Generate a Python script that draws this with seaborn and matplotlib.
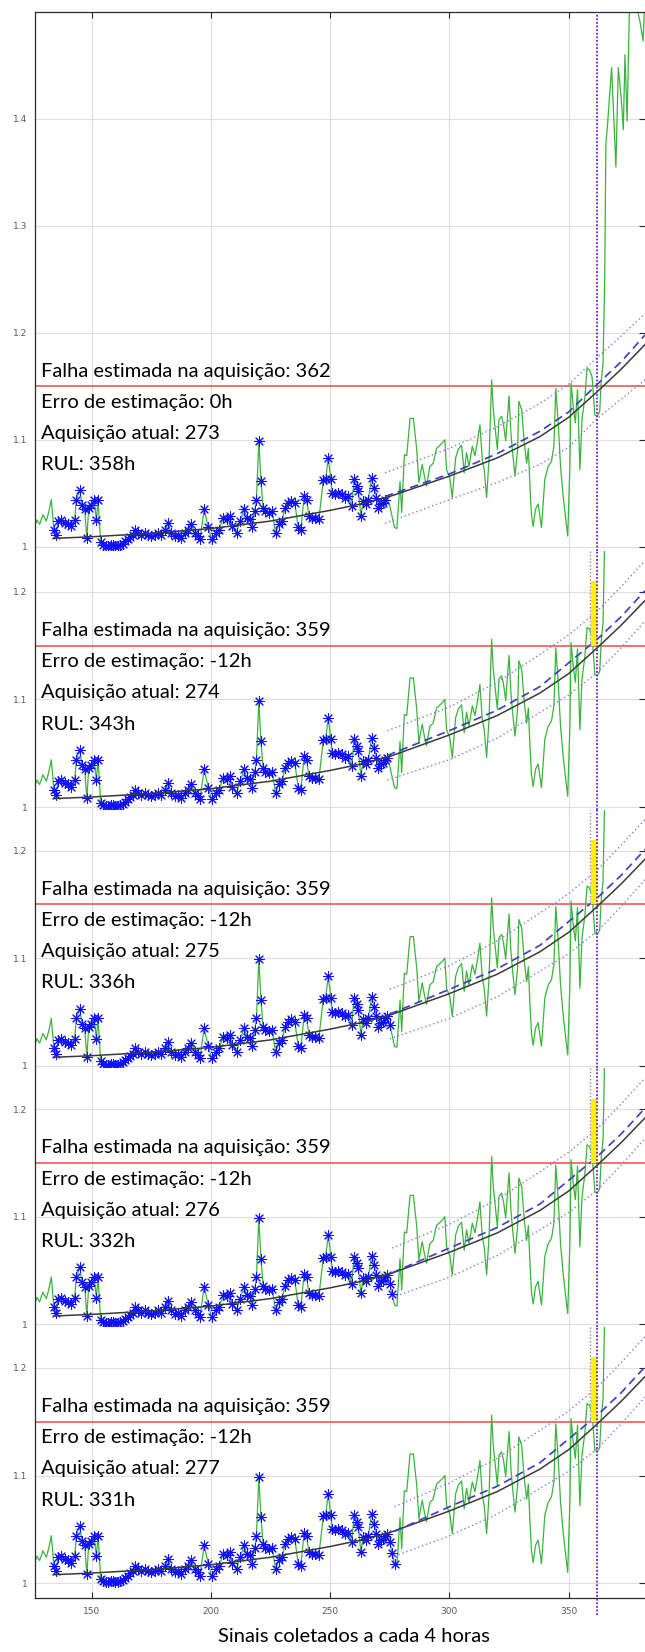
import matplotlib
matplotlib.use("Agg")
import matplotlib.pyplot as plt
import seaborn as sns
from matplotlib.transforms import blended_transform_factory

# ---------------------------------------------------------------- data
# acquisition index (one signal every 4 hours) and monitored signal level
acq = [126.1, 127.1, 128.2, 129.6, 131.0, 132.0, 133.1, 134.2, 135.2, 135.9,
       137.3, 138.7, 140.1, 141.5, 142.9, 143.6, 145.0, 146.0, 147.1, 148.0,
       148.8, 149.9, 151.0, 152.0, 152.7, 153.8, 154.8, 156.0, 156.9, 158.0,
       159.0, 160.0, 161.1, 162.1, 163.1, 164.2, 165.2, 166.3, 167.3, 168.3,
       169.4, 170.8, 172.2, 173.6, 175.0, 176.4, 177.8, 179.2, 180.9, 182.0,
       183.4, 184.8, 186.2, 187.6, 189.0, 190.4, 191.8, 193.2, 194.6, 195.4,
       197.2, 198.9, 200.3, 202.0, 203.4, 205.2, 206.6, 208.0, 208.9, 210.8,
       212.2, 214.0, 215.0, 216.4, 217.3, 218.4, 219.1, 220.1, 221.0, 221.9,
       222.9, 224.3, 225.7, 227.1, 228.5, 229.9, 231.0, 232.4, 233.8, 235.2,
       236.6, 237.7, 239.1, 240.1, 241.1, 242.2, 243.6, 245.3, 247.1, 248.1,
       249.2, 250.3, 250.9, 252.0, 253.4, 254.8, 256.2, 257.6, 259.0, 260.1,
       261.1, 261.8, 262.9, 263.9, 265.2, 266.0, 267.4, 268.5, 269.4, 270.2,
       271.3, 272.3, 273.0, 274.0, 275.0, 276.0, 277.0, 278.0, 279.3, 280.0,
       281.1, 282.1, 283.5, 284.9, 286.3, 287.2, 288.6, 289.5, 290.4, 291.8,
       293.2, 294.6, 295.6, 297.0, 298.1, 298.8, 300.2, 301.2, 302.6, 303.7,
       305.1, 306.2, 307.2, 308.2, 309.6, 310.7, 311.8, 312.8, 313.8, 314.6,
       315.6, 316.6, 317.7, 318.4, 319.1, 320.1, 320.8, 321.9, 322.7, 323.6,
       325.0, 325.8, 326.5, 327.5, 328.6, 329.1, 330.3, 331.4, 332.4, 333.1,
       333.8, 334.4, 335.1, 336.1, 337.2, 338.6, 340.0, 341.4, 342.8, 343.8,
       344.6, 345.6, 346.6, 347.7, 348.8, 349.6, 350.5, 351.0, 351.9, 352.8,
       353.7, 354.7, 355.6, 356.8, 357.7, 358.8, 359.8, 361.0, 362.0, 363.0,
       363.7, 364.4, 365.1, 365.6, 366.2, 367.1, 368.0, 369.8, 370.8, 372.0,
       372.9, 373.6, 374.5, 375.4, 376.3, 377.2, 378.2, 379.1, 379.9, 381.2,
       382.3, 383.5]
signal = [1.019, 1.025, 1.021, 1.030, 1.024, 1.032, 1.044, 1.016, 1.011, 1.024,
          1.025, 1.022, 1.021, 1.019, 1.025, 1.044, 1.053, 1.039, 1.035, 1.008,
          1.036, 1.039, 1.044, 1.025, 1.044, 1.004, 1.002, 1.001, 1.001, 1.002,
          1.002, 1.001, 1.001, 1.002, 1.003, 1.005, 1.007, 1.009, 1.011, 1.016,
          1.013, 1.011, 1.013, 1.011, 1.010, 1.011, 1.013, 1.011, 1.016, 1.022,
          1.013, 1.010, 1.011, 1.008, 1.013, 1.016, 1.021, 1.013, 1.010, 1.007,
          1.035, 1.018, 1.007, 1.013, 1.016, 1.027, 1.026, 1.029, 1.019, 1.013,
          1.024, 1.035, 1.027, 1.026, 1.018, 1.033, 1.044, 1.099, 1.061, 1.036,
          1.033, 1.032, 1.033, 1.013, 1.021, 1.024, 1.036, 1.041, 1.043, 1.041,
          1.018, 1.016, 1.047, 1.044, 1.029, 1.027, 1.027, 1.026, 1.062, 1.063,
          1.083, 1.063, 1.050, 1.049, 1.050, 1.049, 1.046, 1.047, 1.038, 1.063,
          1.057, 1.052, 1.029, 1.043, 1.040, 1.044, 1.064, 1.055, 1.046, 1.036,
          1.040, 1.041, 1.044, 1.046, 1.038, 1.028, 1.018, 1.017, 1.061, 1.032,
          1.086, 1.085, 1.120, 1.120, 1.091, 1.060, 1.077, 1.066, 1.057, 1.075,
          1.078, 1.092, 1.094, 1.097, 1.100, 1.072, 1.064, 1.046, 1.083, 1.091,
          1.095, 1.069, 1.088, 1.075, 1.094, 1.085, 1.099, 1.114, 1.081, 1.072,
          1.046, 1.081, 1.156, 1.128, 1.113, 1.091, 1.119, 1.122, 1.114, 1.099,
          1.141, 1.106, 1.088, 1.066, 1.091, 1.136, 1.128, 1.097, 1.078, 1.092,
          1.055, 1.030, 1.019, 1.035, 1.040, 1.018, 1.063, 1.075, 1.080, 1.094,
          1.148, 1.116, 1.075, 1.047, 1.025, 1.010, 1.075, 1.153, 1.131, 1.116,
          1.147, 1.072, 1.119, 1.140, 1.167, 1.165, 1.159, 1.123, 1.122, 1.126,
          1.156, 1.171, 1.250, 1.377, 1.392, 1.420, 1.448, 1.355, 1.448, 1.420,
          1.390, 1.460, 1.398, 1.497, 1.530, 1.550, 1.520, 1.499, 1.491, 1.473,
          1.530, 1.560]

# first acquisition used by the degradation model
fit_start = 134.0

# per-panel results
current_acq = [273, 274, 275, 276, 277]
estimated_failure = [362, 359, 359, 359, 359]
estimation_error_h = [0, -12, -12, -12, -12]
rul_h = [358, 343, 336, 332, 331]
true_failure = 362
threshold = 1.15

# fitted degradation trend
trend_x = [134, 150, 175, 200, 225, 250, 263, 275, 300, 320, 338, 350, 362, 372, 382]
trend_first = [1.0078, 1.0093, 1.0125, 1.017, 1.024, 1.034, 1.040, 1.047,
               1.066, 1.083, 1.103, 1.121, 1.145, 1.166, 1.189]
trend_next = [1.0078, 1.0093, 1.0125, 1.017, 1.024, 1.034, 1.040, 1.047,
              1.067, 1.085, 1.106, 1.124, 1.148, 1.169, 1.192]

# forecast (dashed) and its confidence bounds (dotted)
pred_x = [274, 300, 320, 338, 350, 362, 372, 382]
pred_first = [1.047, 1.068, 1.087, 1.108, 1.126, 1.152, 1.173, 1.198]
upper_first = [1.069, 1.092, 1.112, 1.134, 1.152, 1.177, 1.197, 1.218]
lower_first = [1.022, 1.044, 1.060, 1.077, 1.093, 1.120, 1.138, 1.156]
pred_next = [1.048, 1.071, 1.090, 1.112, 1.134, 1.156, 1.177, 1.201]
upper_next = [1.071, 1.093, 1.116, 1.142, 1.160, 1.182, 1.205, 1.229]
lower_next = [1.025, 1.044, 1.064, 1.088, 1.104, 1.125, 1.148, 1.173]

# top of the yellow estimation-error marker
err_bar_top = 1.21

x_ticks = [150, 200, 250, 300, 350]

# ---------------------------------------------------------------- style
sns.set_style("white")
plt.rcParams["font.family"] = ["DejaVu Sans"]
TEXT_FONT = ["Lato", "DejaVu Sans"]
TEXT_SIZE = 14.5

GREEN = "#3ab43a"
STAR = "#1010ff"
TREND = "#3a3a3a"
PRED = "#3b3bc8"
BOUND = "#7d7de0"
RED = "#f05a5a"
PURPLE = "#6a20d0"
YELLOW = "#fff200"
GRID = "#dedede"
SPINE = "#2a2a2a"
TICKLAB = "#5a5a5a"

W, H = 645, 1652
fig = plt.figure(figsize=(W / 100, H / 100), dpi=100)

left_px, right_px = 34.6, 645.0
# panel vertical extents in pixels (top, bottom) and y-limits
panel_px = [(12.0, 551.0), (551.0, 809.7), (809.7, 1068.4), (1068.4, 1327.1), (1327.1, 1597.7)]
panel_ylim = [(0.996, 1.5), (0.9975, 1.238), (0.9975, 1.238), (0.9975, 1.238), (0.9864, 1.238)]
panel_yticks = [[1.0, 1.1, 1.2, 1.3, 1.4], [1.0, 1.1, 1.2], [1.0, 1.1, 1.2], [1.0, 1.1, 1.2], [1.0, 1.1, 1.2]]
x_lim = (126.1, 382.0)
text_rows = [1.159, 1.130, 1.101, 1.072]

axes = []
for i in range(5):
    top, bot = panel_px[i]
    ax = fig.add_axes([left_px / W, 1 - bot / H, (right_px - left_px) / W, (bot - top) / H])
    axes.append(ax)
    first = i == 0
    last = i == 4

    ax.set_xlim(*x_lim)
    ax.set_ylim(*panel_ylim[i])
    ax.set_xticks(x_ticks)
    ax.set_yticks(panel_yticks[i])
    ax.set_yticklabels([("%g" % v) for v in panel_yticks[i]])
    ax.grid(True, color=GRID, lw=0.8)
    ax.set_axisbelow(True)

    for side in ["top", "bottom", "left", "right"]:
        ax.spines[side].set_color(SPINE)
        ax.spines[side].set_linewidth(0.9)
    ax.spines["right"].set_visible(False)
    ax.spines["top"].set_visible(first)
    ax.spines["bottom"].set_visible(last)

    ax.tick_params(axis="y", direction="in", length=4, width=0.8, color=SPINE,
                   labelsize=6.5, labelcolor=TICKLAB, pad=5, right=True)
    ax.tick_params(axis="x", direction="in", length=4, width=0.8, color=SPINE,
                   labelsize=6.5, labelcolor=TICKLAB, pad=7,
                   top=first, bottom=last, labelbottom=last, labeltop=False)

    # red failure threshold
    ax.axhline(threshold, color=RED, lw=1.2, zorder=1.5)

    # signal
    sns.lineplot(x=acq, y=signal, ax=ax, color=GREEN, lw=0.9, sort=False,
                 estimator=None, legend=False, zorder=2)

    # acquisitions used by the model so far
    sx = [a for a in acq if fit_start <= a <= current_acq[i] + 0.5]
    sy = [s for a, s in zip(acq, signal) if fit_start <= a <= current_acq[i] + 0.5]
    sns.scatterplot(x=sx, y=sy, ax=ax, marker=(8, 2, 0), s=50, color=STAR,
                    edgecolor=STAR, linewidth=0.75, legend=False, zorder=3)

    trend = trend_first if first else trend_next
    pred = pred_first if first else pred_next
    upper = upper_first if first else upper_next
    lower = lower_first if first else lower_next
    px = [current_acq[i]] + pred_x[1:]

    sns.lineplot(x=trend_x, y=trend, ax=ax, color=TREND, lw=1.1, sort=False,
                 estimator=None, legend=False, zorder=4)
    sns.lineplot(x=px, y=pred, ax=ax, color=PRED, lw=1.2, sort=False,
                 estimator=None, legend=False, zorder=4)
    ax.lines[-1].set_dashes((5, 3))
    sns.lineplot(x=px, y=upper, ax=ax, color=BOUND, lw=1.0, sort=False,
                 estimator=None, legend=False, zorder=4)
    ax.lines[-1].set_dashes((1, 2))
    sns.lineplot(x=px, y=lower, ax=ax, color=BOUND, lw=1.0, sort=False,
                 estimator=None, legend=False, zorder=4)
    ax.lines[-1].set_dashes((1, 2))

    # estimated failure marker and error band
    if estimated_failure[i] != true_failure:
        ax.vlines(estimated_failure[i], threshold, panel_ylim[i][1], color="#8a8a8a",
                  lw=1.0, linestyles=(0, (1, 1.5)), zorder=4)
        ax.fill_between([estimated_failure[i] + 0.5, true_failure], threshold, err_bar_top,
                        color=YELLOW, lw=0, zorder=4.5)

    # true failure line
    ymin = -0.064 if last else 0.0
    ax.axvline(true_failure, ymin=ymin, ymax=1.0, color=PURPLE, lw=1.3,
               linestyle=(0, (1, 1)), zorder=5, clip_on=not last)

    # annotation block
    err = estimation_error_h[i]
    lines = [
        "Falha estimada na aquisição: %d" % estimated_failure[i],
        "Erro de estimação: %dh" % err,
        "Aquisição atual: %d" % current_acq[i],
        "RUL: %dh" % rul_h[i],
    ]
    trans = blended_transform_factory(ax.transAxes, ax.transData)
    for yv, txt in zip(text_rows, lines):
        ax.text(0.0105, yv, txt, transform=trans, ha="left", va="baseline",
                fontsize=TEXT_SIZE, family=TEXT_FONT, color="black", zorder=6)

    ax.set_xlabel("")
    ax.set_ylabel("")

axes[-1].set_xlabel("Sinais coletados a cada 4 horas", fontsize=TEXT_SIZE,
                    family=TEXT_FONT, color="black")
axes[-1].xaxis.set_label_coords(0.5225, -0.112)

fig.savefig("out.png", dpi=100)
